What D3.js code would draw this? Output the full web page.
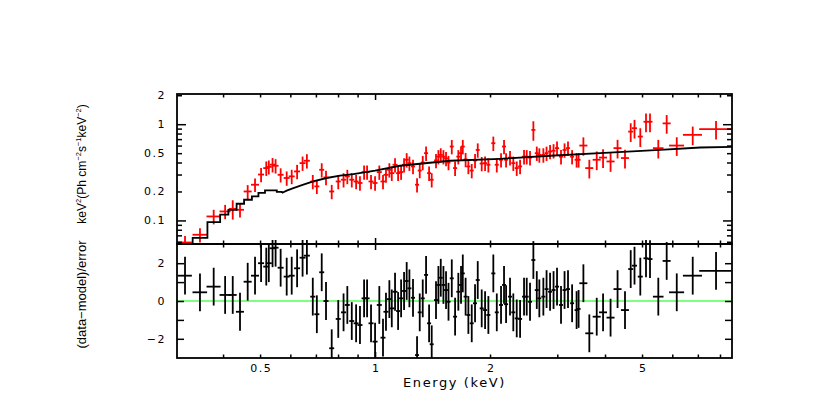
<!DOCTYPE html>
<html><head><meta charset="utf-8">
<script src="https://cdn.jsdelivr.net/npm/d3@7/dist/d3.min.js"></script>
<style>
body{margin:0;background:#fff}
.tick text{font-family:"DejaVu Sans",sans-serif;font-size:11px;letter-spacing:1.5px;fill:#000}
</style>
</head><body><svg id="c" width="830" height="414"></svg>
<script>
// ---- data ----
const energy = [0.318,0.348,0.378,0.405,0.424,0.443,0.464,0.485,0.503,0.519,0.527,0.539,0.549,0.566,0.587,0.605,0.625,0.646,0.663,
0.687,0.704,0.725,0.744,0.770,0.801,0.827,0.846,0.869,0.892,0.913,0.936,0.953,0.976,1.000,1.026,1.049,1.068,1.090,1.106,1.128,
1.149,1.170,1.191,1.210,1.230,1.257,1.288,1.309,1.333,1.360,1.385,1.407,1.444,1.465,1.486,1.510,1.534,1.557,1.588,1.620,
1.652,1.679,1.697,1.726,1.755,1.791,1.827,1.857,1.902,1.941,1.980,2.040,2.083,2.137,2.176,2.203,2.256,2.301,2.349,2.397,
2.455,2.495,2.545,2.597,2.651,2.692,2.758,2.812,2.872,2.933,2.995,3.068,3.134,3.200,3.280,3.370,3.411,3.511,3.639,3.805,
3.953,4.136,4.314,4.512,4.670,4.778,4.948,5.121,5.246,5.515,5.801,6.164,6.787,7.811];
const energyErr = [0.0134,0.0153,0.016,0.0134,0.0102,0.0107,0.0112,0.0117,0.0091,0.0094,0.0095,0.0098,0.0099,0.0102,0.0106,0.011,0.0113,0.0117,0.012,
0.0104,0.0106,0.0109,0.0112,0.0116,0.0121,0.0125,0.0127,0.0131,0.0134,0.0138,0.0141,0.0144,0.0147,0.0151,0.0155,0.0158,0.0161,0.0164,0.0167,0.017,
0.0139,0.0141,0.0144,0.0146,0.0148,0.0152,0.0155,0.0158,0.0161,0.0164,0.0167,0.017,0.0174,0.0177,0.0179,0.0182,0.0185,0.0188,0.0192,0.0195,
0.0199,0.0202,0.0205,0.0208,0.0212,0.0216,0.022,0.0224,0.0229,0.0234,0.0239,0.0246,0.0251,0.0258,0.0262,0.0266,0.0272,0.0278,0.0283,0.0289,
0.0296,0.0301,0.0307,0.0313,0.032,0.0325,0.0333,0.0339,0.0346,0.0354,0.0361,0.037,0.0378,0.0386,0.0396,0.0406,0.0411,0.085,0.088,0.092,
0.095,0.1,0.104,0.109,0.070,0.072,0.075,0.077,0.079,0.176,0.14,0.279,0.389,0.754];
const flux = [0.059,0.071,0.110,0.124,0.132,0.129,0.200,0.235,0.300,0.350,0.360,0.380,0.370,0.298,0.276,0.287,0.323,0.394,0.417,
0.254,0.226,0.336,0.280,0.200,0.254,0.265,0.287,0.265,0.254,0.245,0.318,0.318,0.254,0.245,0.318,0.254,0.298,0.336,0.310,0.379,
0.310,0.318,0.379,0.427,0.394,0.364,0.235,0.330,0.400,0.500,0.310,0.265,0.420,0.460,0.480,0.460,0.440,0.400,0.586,0.350,
0.460,0.500,0.586,0.430,0.364,0.330,0.420,0.540,0.390,0.394,0.379,0.635,0.379,0.427,0.586,0.427,0.450,0.394,0.350,0.364,
0.460,0.460,0.450,0.873,0.500,0.480,0.480,0.500,0.520,0.530,0.564,0.460,0.540,0.564,0.460,0.427,0.427,0.600,0.350,0.427,
0.450,0.410,0.564,0.445,0.838,0.909,0.744,1.060,1.060,0.564,1.020,0.600,0.775,0.887];
const fluxErr = [0.010,0.012,0.019,0.021,0.030,0.022,0.033,0.038,0.050,0.060,0.060,0.065,0.063,0.050,0.047,0.049,0.055,0.067,0.071,
0.043,0.038,0.057,0.048,0.034,0.043,0.045,0.049,0.045,0.043,0.042,0.054,0.054,0.043,0.042,0.054,0.043,0.051,0.057,0.053,0.064,
0.053,0.054,0.064,0.073,0.067,0.062,0.040,0.056,0.068,0.085,0.053,0.045,0.071,0.078,0.082,0.078,0.075,0.068,0.100,0.060,
0.078,0.085,0.100,0.073,0.062,0.056,0.071,0.092,0.066,0.067,0.064,0.108,0.064,0.073,0.100,0.073,0.077,0.067,0.060,0.062,
0.078,0.078,0.077,0.200,0.085,0.082,0.082,0.085,0.088,0.090,0.096,0.078,0.092,0.096,0.078,0.073,0.073,0.130,0.077,0.094,
0.099,0.090,0.124,0.098,0.184,0.200,0.164,0.233,0.233,0.124,0.224,0.132,0.170,0.195];
const resid = [1.34,0.46,0.76,0.32,0.32,-0.57,1.02,1.34,2.0,1.82,2.0,2.79,2.82,1.76,1.29,1.34,1.73,2.29,2.4,
0.23,-0.70,1.52,0.0,-2.5,-0.95,-0.60,-0.21,-1.06,-1.18,-1.27,0.14,0.14,-1.18,-2.15,-0.21,-1.94,-0.57,0.10,-0.39,0.49,
-0.53,0.14,0.53,1.06,0.67,0.17,-2.86,-0.60,0.14,1.38,-1.18,-2.29,0.05,0.85,1.23,0.85,0.58,-0.04,1.20,-0.83,
0.49,0.85,1.46,0.23,-0.74,-1.18,-0.12,1.11,-0.39,-0.48,-0.74,1.46,-0.60,-0.21,0.85,-0.17,0.23,-0.60,-0.92,-0.95,
0.23,0.23,-0.04,2.17,0.58,0.14,0.23,0.63,0.49,0.58,0.76,-0.21,0.58,0.63,-0.12,-0.48,-0.42,0.94,-1.71,-0.83,
-0.60,-0.88,0.63,-0.48,1.69,1.87,1.29,2.26,2.22,0.23,2.12,0.46,1.34,1.59];
const residErr = 1.0; // residuals are in units of sigma

// model: stepped low-energy part and smooth high-energy part
const stepEnergy = [0.303,0.333,0.364,0.393,0.413,0.434,0.454,0.476,0.495,0.515,0.553,0.570];
const stepFlux   = [0.056,0.066,0.096,0.115,0.129,0.149,0.164,0.178,0.193,0.205,0.198,0.193];
const smoothEnergy = [0.570,0.587,0.611,0.649,0.689,0.747,0.810,0.877,1.0,1.162,1.571,2.124,2.87,3.88,5.57,7.1,8.6];
const smoothFlux   = [0.193,0.204,0.217,0.235,0.254,0.276,0.292,0.303,0.33,0.37,0.417,0.437,0.47,0.50,0.54,0.573,0.58];

// ticks
const xLabelTicks = [0.5,1,2,5];
const xMajorTicks = [1];
const xMinorTicks = [0.4,0.5,0.6,0.7,0.8,0.9,2,3,4,5,6,7,8];
const yTopLabelTicks = [0.1,0.2,0.5,1,2];
const yTopMajorTicks = [0.1,1];
const yTopMinorTicks = [0.06,0.07,0.08,0.09,0.2,0.3,0.4,0.5,0.6,0.7,0.8,0.9,2];
const yBotLabelTicks = [-2,0,2];
const yBotTicks = [-2,-1,0,1,2];

// ---- layout ----
const L = 177, R = 732, T = 94, M = 244, B = 358;
const svg = d3.select("#c");
const x = d3.scaleLog().domain([0.303, 8.6]).range([L, R]);
const yT = d3.scaleLog().domain([0.0569, 2.06]).range([M, T]);
const yB = d3.scaleLinear().domain([-3.016, 3.016]).range([B, M]);

const defs = svg.append("defs");
defs.append("clipPath").attr("id","cpT").append("rect").attr("x",L).attr("y",T).attr("width",R-L).attr("height",M-T);
defs.append("clipPath").attr("id","cpB").append("rect").attr("x",L).attr("y",M-4).attr("width",R-L).attr("height",B-M+4);

const idx = d3.range(energy.length);

// top panel data
const gT = svg.append("g").attr("clip-path","url(#cpT)");
gT.selectAll("line.h").data(idx).join("line")
  .attr("x1",i=>x(energy[i]-energyErr[i])).attr("x2",i=>x(energy[i]+energyErr[i]))
  .attr("y1",i=>yT(flux[i])).attr("y2",i=>yT(flux[i]))
  .attr("stroke","#ff0000").attr("stroke-width",1.8);
gT.selectAll("line.v").data(idx).join("line")
  .attr("x1",i=>x(energy[i])).attr("x2",i=>x(energy[i]))
  .attr("y1",i=>yT(flux[i]-fluxErr[i])).attr("y2",i=>yT(flux[i]+fluxErr[i]))
  .attr("stroke","#ff0000").attr("stroke-width",1.8);

const stepLine = d3.line().x((d)=>x(d[0])).y(d=>yT(d[1])).curve(d3.curveStepAfter);
const smoothLine = d3.line().x((d)=>x(d[0])).y(d=>yT(d[1]));
gT.append("path").attr("d", stepLine(stepEnergy.map((e,i)=>[e,stepFlux[i]])))
  .attr("fill","none").attr("stroke","#000").attr("stroke-width",1.8);
gT.append("path").attr("d", smoothLine(smoothEnergy.map((e,i)=>[e,smoothFlux[i]])))
  .attr("fill","none").attr("stroke","#000").attr("stroke-width",1.8);

// bottom panel
const gB = svg.append("g").attr("clip-path","url(#cpB)");
gB.append("line").attr("x1",L).attr("x2",R).attr("y1",yB(0)).attr("y2",yB(0))
  .attr("stroke","#00ff00").attr("stroke-width",1.2);
gB.selectAll("line.h").data(idx).join("line")
  .attr("x1",i=>x(energy[i]-energyErr[i])).attr("x2",i=>x(energy[i]+energyErr[i]))
  .attr("y1",i=>yB(resid[i])).attr("y2",i=>yB(resid[i]))
  .attr("stroke","#000").attr("stroke-width",1.8);
gB.selectAll("line.v").data(idx).join("line")
  .attr("x1",i=>x(energy[i])).attr("x2",i=>x(energy[i]))
  .attr("y1",i=>yB(resid[i]-residErr)).attr("y2",i=>yB(resid[i]+residErr))
  .attr("stroke","#000").attr("stroke-width",1.8);

// ---- axes / ticks (inside) ----
function ticks(axisFn, scale, vals, size, tx, ty){
  const g = svg.append("g").attr("transform",`translate(${tx},${ty})`)
    .call(axisFn(scale).tickValues(vals).tickSize(size).tickFormat(""));
  g.select(".domain").remove();
  g.selectAll(".tick line").attr("stroke","#000").attr("stroke-width",1.5);
  return g;
}
[[T,"down"],[M,"up"],[M,"down"],[B,"up"]].forEach(([yy,dir])=>{
  const fn = dir==="down" ? d3.axisBottom : d3.axisTop;
  ticks(fn, x, xMinorTicks, 3.5, 0, yy);
  ticks(fn, x, xMajorTicks, 6, 0, yy);
});
ticks(d3.axisRight, yT, yTopMinorTicks, 5, L, 0);
ticks(d3.axisRight, yT, yTopMajorTicks, 9, L, 0);
ticks(d3.axisLeft, yT, yTopMinorTicks, 5, R, 0);
ticks(d3.axisLeft, yT, yTopMajorTicks, 9, R, 0);
ticks(d3.axisRight, yB, yBotTicks, 7, L, 0);
ticks(d3.axisLeft, yB, yBotTicks, 7, R, 0);

function labels(axisFn, scale, vals, pad, tx, ty, fmt){
  const g = svg.append("g").attr("transform",`translate(${tx},${ty})`)
    .call(axisFn(scale).tickValues(vals).tickSize(0).tickPadding(pad).tickFormat(fmt));
  g.select(".domain").remove();
  g.attr("font-family",null).attr("font-size",null);
  return g;
}
labels(d3.axisLeft, yT, yTopLabelTicks, 11, L, 0, d=>String(d));
labels(d3.axisLeft, yB, yBotLabelTicks, 11, L, 0, d=> d<0 ? "\u2212"+Math.abs(d) : String(d));
labels(d3.axisBottom, x, xLabelTicks, 6, 0, B, d=>String(d)).selectAll("text").attr("dx","0.75");

// frames
svg.append("rect").attr("x",L).attr("y",T).attr("width",R-L).attr("height",M-T)
  .attr("fill","none").attr("stroke","#000").attr("stroke-width",1.8);
svg.append("rect").attr("x",L).attr("y",M).attr("width",R-L).attr("height",B-M)
  .attr("fill","none").attr("stroke","#000").attr("stroke-width",1.8);

// axis titles
svg.append("text").attr("x",(L+R)/2).attr("y",386.5).attr("text-anchor","middle")
  .attr("font-family","DejaVu Sans, sans-serif").attr("font-size",13).attr("letter-spacing","1.6px")
  .text("Energy (keV)");

const t1 = svg.append("text").attr("transform","translate(86,164) rotate(-90) scale(0.93,1)")
  .attr("text-anchor","middle").attr("font-family","Liberation Sans Narrow, Liberation Sans, sans-serif")
  .attr("font-size",13);
t1.append("tspan").text("keV");
t1.append("tspan").attr("dy",-5).attr("font-size",8).text("2");
t1.append("tspan").attr("dy",5).text("(Ph cm");
t1.append("tspan").attr("dy",-5).attr("font-size",8).text("\u22122");
t1.append("tspan").attr("dy",5).text("s");
t1.append("tspan").attr("dy",-5).attr("font-size",8).text("\u22121");
t1.append("tspan").attr("dy",5).text("keV");
t1.append("tspan").attr("dy",-5).attr("font-size",8).text("\u22122");
t1.append("tspan").attr("dy",5).text(")");

svg.append("text").attr("transform","translate(86,294.5) rotate(-90)")
  .attr("text-anchor","middle").attr("font-family","Liberation Sans Narrow, Liberation Sans, sans-serif")
  .attr("font-size",13).text("(data\u2212model)/error");
</script>
</body></html>
